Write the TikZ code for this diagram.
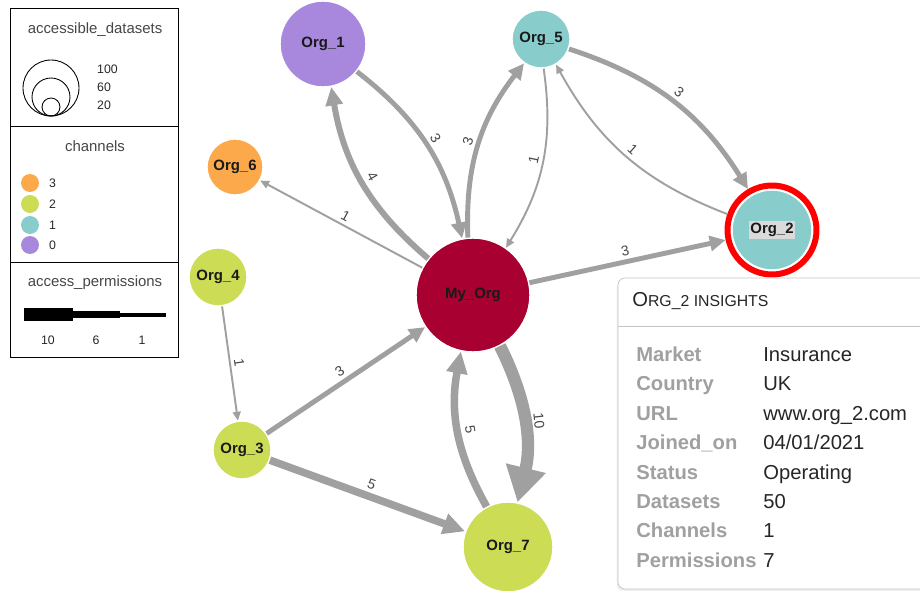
\documentclass[tikz,border=0pt]{standalone}
\usepackage{fontspec}
\setsansfont{Liberation Sans}
\usepackage{xcolor}
\usetikzlibrary{positioning, arrows.meta, shadows}
\definecolor{orgPurple}{RGB}{167, 136, 220}
\definecolor{orgTeal}{RGB}{136, 205, 204}
\definecolor{orgOrange}{RGB}{251, 169, 75}
\definecolor{orgGreen}{RGB}{205, 220, 85}
\definecolor{orgCrimson}{RGB}{168, 0, 48}
\definecolor{edgeGray}{RGB}{160, 160, 160}
\definecolor{textGray}{RGB}{70, 70, 70}
\definecolor{keyGray}{RGB}{160, 160, 160}
\definecolor{panelLine}{RGB}{195, 195, 195}
\definecolor{selGray}{RGB}{218, 218, 218}
\tikzset{
    base/.style={
        font=\sffamily,
        align=center
    },
    org/.style={
        base,
        circle,
        draw=white,
        line width=0.8pt,
        inner sep=0pt,
        text=black!90,
        font=\sffamily\bfseries\fontsize{8.5}{10}\selectfont
    },
    link/.style={
        color=edgeGray
    },
    wone/.style={link, line width=1.1pt, -{Triangle[length=5pt, width=4.5pt]}},
    wthree/.style={link, line width=2.8pt, -{Triangle[length=9pt, width=8.5pt]}},
    wfour/.style={link, line width=3.4pt, -{Triangle[length=10.5pt, width=9.5pt]}},
    wfive/.style={link, line width=4.3pt, -{Triangle[length=12.5pt, width=11.5pt]}},
    wten/.style={link, line width=7pt, -{Triangle[length=20pt, width=22pt]}},
    elabel/.style={
        base,
        font=\sffamily\fontsize{8}{9}\selectfont,
        text=textGray,
        inner sep=2pt,
        midway, sloped, above
    },
    legtitle/.style={
        base,
        font=\sffamily\fontsize{8.5}{10}\selectfont,
        text=textGray
    },
    legnum/.style={
        base,
        font=\sffamily\fontsize{7}{8}\selectfont,
        text=black!85
    },
    dot/.style={
        circle,
        inner sep=0pt,
        minimum size=0.36cm
    },
    rowkey/.style={
        base,
        anchor=base west,
        inner sep=0pt,
        font=\sffamily\bfseries\fontsize{11.5}{13}\selectfont,
        text=keyGray
    },
    rowval/.style={
        base,
        anchor=base west,
        inner sep=0pt,
        font=\sffamily\fontsize{11.5}{13}\selectfont,
        text=black!85
    }
}

\begin{document}
\begin{tikzpicture}[x=0.02cm, y=-0.02cm]
  \useasboundingbox (0,0) rectangle (920,591);

  % Legend
  \draw[line width=0.5pt] (10,8) rectangle (178,357);
  \draw[line width=0.5pt] (10,126) -- (178,126);
  \draw[line width=0.5pt] (10,262) -- (178,262);

  \node[legtitle] (tdata) at (95,30) {accessible\_datasets};
  \draw[line width=0.5pt] (51,88) circle[radius=0.56cm];
  \draw[line width=0.5pt] (51,97) circle[radius=0.38cm];
  \draw[line width=0.5pt] (51,107) circle[radius=0.18cm];
  \node[legnum, anchor=west] (d100) at (91,69) {100};
  \node[legnum, anchor=west] (d60) at (91,87) {60};
  \node[legnum, anchor=west] (d20) at (91,105) {20};

  \node[legtitle] (tchan) at (95,146) {channels};
  \node[dot, fill=orgOrange] (ch3) at (30,183) {};
  \node[dot, fill=orgGreen] (ch2) at (30,204) {};
  \node[dot, fill=orgTeal] (ch1) at (30,225) {};
  \node[dot, fill=orgPurple] (ch0) at (30,245) {};
  \node[legnum, right=2pt of ch3] {3};
  \node[legnum, right=2pt of ch2] {2};
  \node[legnum, right=2pt of ch1] {1};
  \node[legnum, right=2pt of ch0] {0};

  \node[legtitle] (tperm) at (95,283) {access\_permissions};
  \fill (24,308) rectangle (73,321);
  \fill (73,311) rectangle (120,318);
  \fill (120,313) rectangle (166,317);
  \node[legnum] (p10) at (48,340) {10};
  \node[legnum] (p6) at (96,340) {6};
  \node[legnum] (p1) at (142,340) {1};

  % Organisations
  \node[org, fill=orgCrimson, minimum size=2.28cm] (my) at (473,295) {My\_Org};
  \node[org, fill=orgPurple, minimum size=1.72cm] (org1) at (323,44) {Org\_1};
  \node[org, fill=orgTeal, minimum size=1.6cm, outer sep=0.15cm] (org2) at (772,230)
    {\fboxsep=1pt\colorbox{selGray}{Org\_2}};
  \draw[red, line width=3.4pt] (org2.center) circle[radius=0.89cm];
  \node[org, fill=orgGreen, minimum size=1.16cm] (org3) at (242,450) {Org\_3};
  \node[org, fill=orgGreen, minimum size=1.16cm] (org4) at (218,277) {Org\_4};
  \node[org, fill=orgTeal, minimum size=1.16cm] (org5) at (541,39) {Org\_5};
  \node[org, fill=orgOrange, minimum size=1.12cm] (org6) at (235,167) {Org\_6};
  \node[org, fill=orgGreen, minimum size=1.8cm] (org7) at (508,547) {Org\_7};

  % Access links
  \draw[wfour] (my) to[bend left=20] node[elabel] {4} (org1);
  \draw[wthree] (org1) to[bend left=20] node[elabel] {3} (my);
  \draw[wthree] (my) to[bend left=20] node[elabel] {3} (org5);
  \draw[wone] (org5) to[bend left=20] node[elabel] {1} (my);
  \draw[wthree] (org5) to[bend left=20] node[elabel] {3} (org2);
  \draw[wone] (org2) to[bend left=20] node[elabel] {1} (org5);
  \draw[wone] (my) -- node[elabel] {1} (org6);
  \draw[wthree] (my) -- node[elabel] {3} (org2);
  \draw[wone] (org4) -- node[elabel] {1} (org3);
  \draw[wthree] (org3) -- node[elabel] {3} (my);
  \draw[wfive] (org3) -- node[elabel] {5} (org7);
  \draw[wten] (my) to[bend left=20] node[elabel] {10} (org7);
  \draw[wfive] (org7) to[bend left=20] node[elabel] {5} (my);

  % Insights panel
  \draw[panelLine, fill=white, rounded corners=4pt,
    drop shadow={opacity=0.12, shadow xshift=-0.3mm, shadow yshift=-0.5mm}]
    (618,278) rectangle (940,589);
  \draw[panelLine] (618,326) -- (940,326);
  \node[base, anchor=base west, inner sep=0pt, text=black!85] (ptitle) at (632,307)
    {\fontsize{11.5}{13}\selectfont O\fontsize{9}{11}\selectfont RG\_2 INSIGHTS};

  \node[rowkey] (k1) at (636,361) {Market};
  \node[rowval] (v1) at (763,361) {Insurance};
  \node[rowkey] (k2) at (636,391) {Country};
  \node[rowval] (v2) at (763,391) {UK};
  \node[rowkey] (k3) at (636,420) {URL};
  \node[rowval] (v3) at (763,420) {www.org\_2.com};
  \node[rowkey] (k4) at (636,449) {Joined\_on};
  \node[rowval] (v4) at (763,449) {04/01/2021};
  \node[rowkey] (k5) at (636,479) {Status};
  \node[rowval] (v5) at (763,479) {Operating};
  \node[rowkey] (k6) at (636,508) {Datasets};
  \node[rowval] (v6) at (763,508) {50};
  \node[rowkey] (k7) at (636,537) {Channels};
  \node[rowval] (v7) at (763,537) {1};
  \node[rowkey] (k8) at (636,567) {Permissions};
  \node[rowval] (v8) at (763,567) {7};
\end{tikzpicture}
\end{document}
